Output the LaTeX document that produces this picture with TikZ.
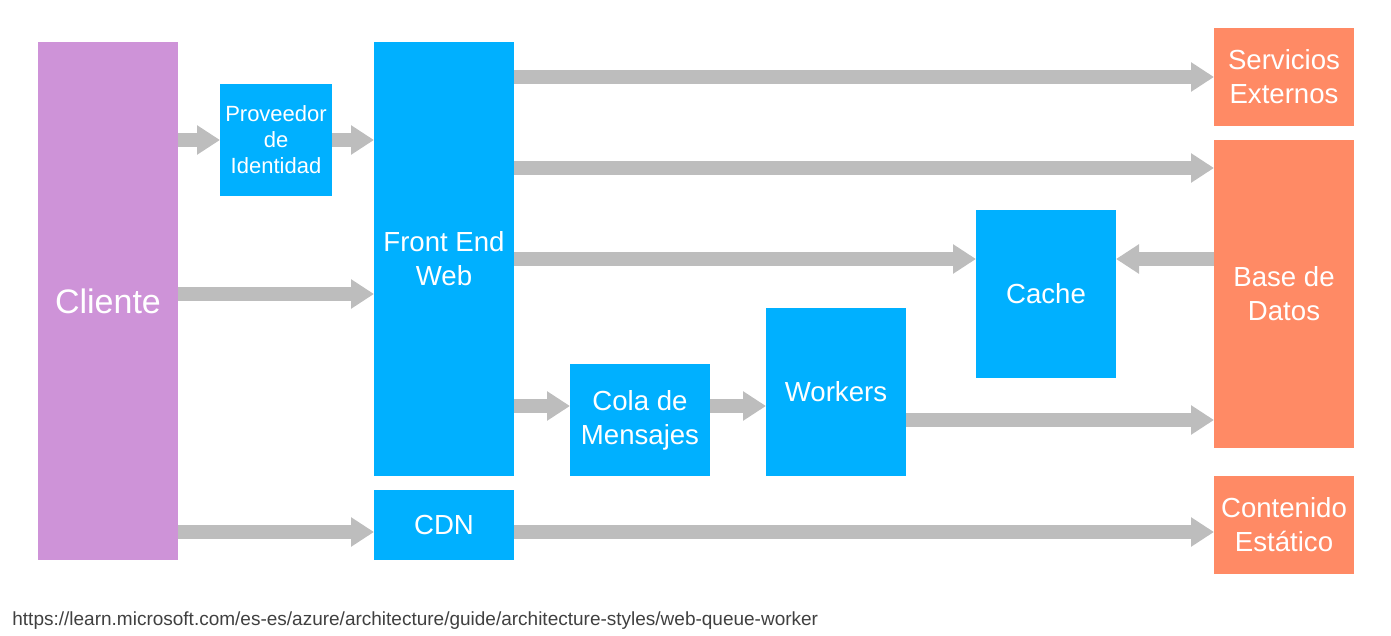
\documentclass[tikz,border=0pt]{standalone}
\usepackage{fontspec}
\setmainfont{Liberation Sans}
\usepackage{tikz}
\usetikzlibrary{arrows.meta,positioning,calc}
\usepackage{xcolor}
\definecolor{cligray}{RGB}{206,147,216}
\definecolor{azblue}{RGB}{0,176,255}
\definecolor{azorange}{RGB}{255,138,101}
\definecolor{flowgray}{RGB}{189,189,189}

\begin{document}
\begin{tikzpicture}[
  x=0.5pt, y=-0.5pt,
  box/.style={inner sep=0pt, outer sep=0pt, align=center, text=white, minimum width=70pt},
  client/.style={box, fill=cligray, font=\fontsize{17}{20}\selectfont},
  web/.style={box, fill=azblue, font=\fontsize{13.8}{17}\selectfont},
  ext/.style={box, fill=azorange, font=\fontsize{13.8}{17}\selectfont},
  flow/.style={draw=flowgray, line width=7pt, -{Triangle[length=11.5pt,width=14pt]}}]
\useasboundingbox (0,0) rectangle (1391,636);
\node[client, minimum height=259pt] (cli) at (108,301) {Cliente};
\node[web, minimum width=56pt, minimum height=56pt, font=\fontsize{11}{13}\selectfont] (idp) at (276,140) {Proveedor\\de\\Identidad};
\node[web, minimum height=217pt] (fe) at (444,259) {Front End\\Web};
\node[web, minimum height=35pt] (cdn) at (444,525) {CDN};
\node[web, minimum height=56pt] (queue) at (640,420) {Cola de\\Mensajes};
\node[web, minimum height=84pt] (wrk) at (836,392) {Workers};
\node[web, minimum height=84pt] (cache) at (1046,294) {Cache};
\node[ext, minimum height=49pt] (svc) at (1284,77) {Servicios\\Externos};
\node[ext, minimum height=154pt] (db) at (1284,294) {Base de\\Datos};
\node[ext, minimum height=49pt] (static) at (1284,525) {Contenido\\Estático};
\node[anchor=west, inner sep=0pt, text=black!75, font=\fontsize{9.5}{11}\selectfont] (src) at (12,621)
  {https://learn.microsoft.com/es-es/azure/architecture/guide/architecture-styles/web-queue-worker};
\coordinate (dbin) at ([yshift=-14pt]db.north west);
\coordinate (qin) at ([yshift=7pt]queue.west);
\coordinate (cdnin) at ([yshift=-3.5pt]cdn.west);
% client side
\draw[flow] (cli.east |- idp.west) -- (idp.west);
\draw[flow] (idp.east) -- (idp.east -| fe.west);
\draw[flow] (cli.east |- cache.west) -- (cache.west -| fe.west);
\draw[flow] (cli.east |- cdnin) -- (cdnin);
% web tier
\draw[flow] (fe.east |- svc.west) -- (svc.west);
\draw[flow] (fe.east |- dbin) -- (dbin);
\draw[flow] (fe.east) -- (fe.east -| cache.west);
\draw[flow] (db.west |- fe.east) -- (cache.east |- fe.east);
\draw[flow] (fe.east |- qin) -- (qin);
\draw[flow] (queue.east |- qin) -- (wrk.west |- qin);
\draw[flow] (wrk.east |- queue.east) -- (db.west |- queue.east);
\draw[flow] (cdn.east |- cdnin) -- (static.west |- cdnin);
\end{tikzpicture}
\end{document}
